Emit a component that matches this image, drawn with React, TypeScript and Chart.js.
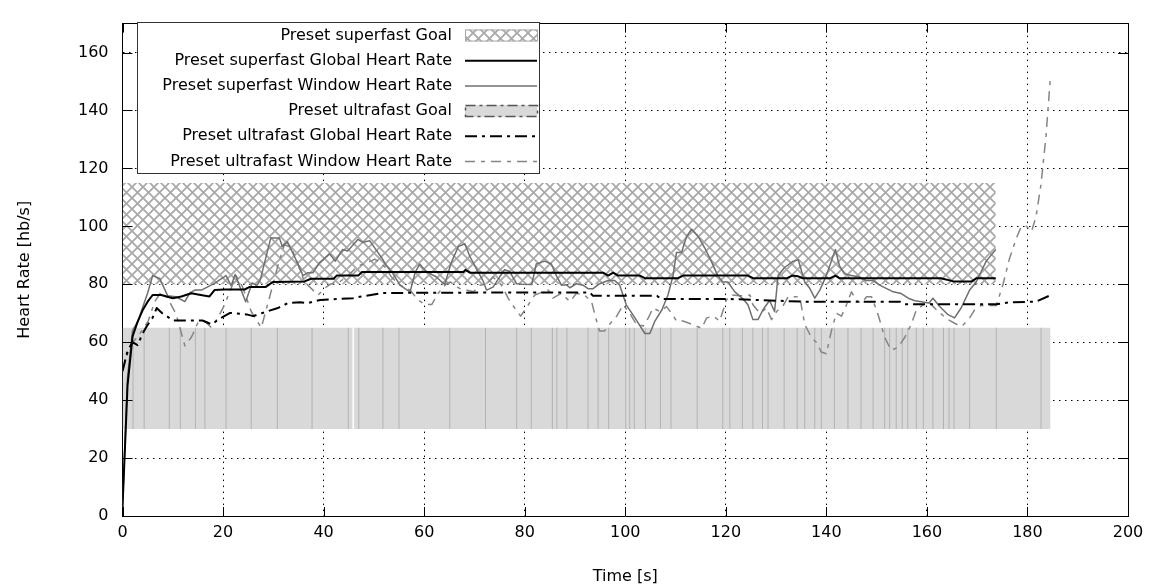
import React, { useEffect, useRef } from 'react';
import { Chart, registerables } from 'chart.js';
Chart.register(...registerables);

const FONT = '"DejaVu Sans", "Liberation Sans", sans-serif';

// ---------- data ----------
const xTicksMax = 200;
const yTicksMax = 170;

const superGoalRange = [0, 173.7];
const superGoalBand = [80, 115];
const ultraGoalRange = [0, 184.6];
const ultraGoalBand = [30, 65];
const ultraGoalBoundaries = [2.1, 4.3, 9.3, 11.5, 14.5, 16.4, 20.6, 25.6, 30.8, 37.7, 44.9, 47, 51.8, 55, 65.1, 72.2, 78.4, 81.3, 85.5, 86.4, 88.4, 92.6, 94.6, 96.7, 100.1, 100.9, 101.8, 104, 107, 109.1, 114.3, 119.4, 120.8, 123.3, 125.4, 127.3, 128.4, 131.6, 134.2, 135.7, 137.7, 139, 141.6, 144.3, 146.9, 149.3, 151.6, 152.6, 153.9, 155.1, 156.2, 157.9, 159.3, 161.2, 163.3, 164.4, 165.4, 168.5, 173.8, 182.7];
const ultraGoalGaps = [45.9];

const superGlobal = [[0,3],[1,45],[2,62],[3,67],[4,71],[5,74],[6,76.3],[7.7,76.3],[10,75.2],[11.7,75.8],[13.7,76.9],[15,76.5],[17.3,75.8],[18.3,78],[20.3,78.2],[24.3,78.2],[25.3,79.1],[28.5,79.1],[29.9,80.8],[36.2,81],[37.5,81.9],[42,81.9],[42.6,83],[46.9,83],[47.6,84.2],[67.8,84.2],[68.2,85],[69.1,84],[95.6,84],[96.6,83],[97.6,84],[98.6,83],[102.9,83],[103.9,82.1],[110.5,82.1],[111.5,83],[124.4,83],[125.4,82.1],[132.2,82.1],[133.2,83],[134.3,82.8],[135.3,82.1],[140.8,82.1],[141.8,83],[142.6,82.1],[162.8,82.1],[165.3,81],[168.9,81],[169.9,82.1],[173.7,82.1]];

const superWindow = [[0,3],[1,48],[2,64],[3,67],[4,72],[5,77],[6,83],[7.4,82],[9,76],[10.6,75.7],[12.4,74],[13.4,77],[14.4,78],[15.7,78],[18.3,80.3],[20.6,83],[21.6,79.5],[22.4,83.4],[24.5,74],[25.8,80.5],[26.7,79.5],[27.4,81.5],[29.5,96],[31.2,96],[31.8,93],[32.8,94.7],[34.1,90],[35.9,83],[36.9,84],[37.9,84],[39.2,87.5],[41.2,90.5],[42.3,88],[43.8,92],[44.8,91.5],[46.8,95.5],[47.8,94.5],[49.2,95],[50.2,92.5],[51.6,89],[52.5,86.4],[53.8,83.7],[55.2,79.7],[56.2,78.5],[57.2,77.4],[58.2,84],[59.1,87],[60.1,85],[61.1,83.7],[62.4,82.6],[63.5,80.8],[64.1,80],[65.4,87.5],[66.8,93],[68.1,94],[69.1,89.6],[70.4,85.3],[71.7,81.3],[72.4,78],[73.7,79],[75,82.5],[76,85],[77,84.4],[78.4,80.2],[79.5,80],[81.4,79.9],[82.3,87],[84,88],[85.3,87],[86.3,83],[87.3,79.7],[88.3,79.8],[89,78.8],[90.3,80.2],[91.6,79.7],[92.6,78.5],[93.6,78.5],[94.9,80.2],[96.6,81.3],[97.9,81.3],[98.9,79.7],[100.2,72.9],[101.9,68.5],[103.9,63],[104.9,63],[105.9,67.3],[107.3,71.2],[108.5,76.3],[109.5,83],[110.2,91],[111.2,91],[112.2,96.5],[113.2,99],[114.5,96.5],[115.8,92.6],[117.1,88],[118.4,83],[119.4,80.8],[120.4,80.8],[121.8,77.4],[123.4,75],[124.4,72.9],[125.4,67.8],[126.4,67.8],[127.4,71.2],[128.7,74.4],[129.7,70.6],[130.4,83],[131.7,85.8],[133.4,88],[134.4,88.5],[135.7,80.8],[136.7,78.6],[137.7,75.2],[138.7,78],[140,83],[141,88],[141.8,92],[142.6,86.4],[143.6,83.6],[145,83],[146.6,82.5],[147.9,81.3],[149.3,81.3],[150.6,79.7],[151.9,78.6],[153.3,77.4],[154.9,76.8],[156.3,75.2],[157.6,74.3],[158.9,74],[160.4,73.5],[161.2,75.2],[162.5,72.4],[164.2,69.5],[165.5,68.4],[166.8,71.8],[168.5,78],[169.8,80.8],[171.8,88],[173.7,92]];

const ultraGlobal = [[0,50],[1,57],[2,60],[3,59],[4,63],[5,66],[6,68.5],[6.8,71.8],[7.9,70],[10.1,67.5],[15.9,67.5],[17.7,66.2],[19.6,68.4],[21.4,70.1],[24.7,69.6],[26,69],[28.7,70.6],[30.9,71.8],[32.9,73.5],[35.3,73.8],[36.9,73.5],[39.3,74.6],[45.9,75.2],[47.2,75.7],[51.8,77],[81,77.2],[92.9,77.2],[93.6,76],[106.3,76],[107.2,74.9],[121,74.9],[135.3,74],[154.6,74],[155.6,73.1],[173.8,73.1],[176.4,73.8],[181.7,74],[184.7,76.3]];

const ultraWindow = [[0,50],[1,56],[2,60],[3.1,62],[5.1,67.3],[6.4,74],[7.7,77.4],[9,75.2],[10.7,69.5],[12.4,58.8],[13.7,61.7],[15,66.7],[16.3,67.3],[17.7,65],[19,68.5],[20.3,72.9],[22.6,83],[23.9,79],[25.6,70.6],[27.6,65],[29.2,75.2],[30.9,86.4],[32.2,93.7],[33.6,92.6],[34.9,87],[36.2,80.8],[37.5,78.6],[38.9,76.3],[40.2,78.6],[41.3,80],[43.2,80.8],[45.2,83.6],[46.9,86.4],[48.6,87.3],[50.2,88.7],[52.2,86],[53.5,82.5],[55.2,79.7],[57.2,78],[58.8,74.6],[60.1,73.1],[61.5,73],[62.8,76.9],[64.3,80],[65.2,80.8],[67.1,78.5],[68.4,78],[69.8,77.4],[71.1,79.7],[72.4,80],[73.7,82.5],[75.4,79.7],[76.7,75.2],[78,71.8],[79.2,69],[80.3,71.8],[82,76.3],[83.7,77.4],[84.7,78],[85.6,75.2],[87.3,76.9],[89,74],[90.3,76.9],[91.9,76.3],[93.3,74],[94.3,67.3],[94.9,63.9],[95.9,63.9],[96.9,66.2],[98.3,69],[99.6,72.9],[100.9,70],[102.2,66.2],[103.6,65.6],[104.6,68.4],[105.5,71.8],[106.9,70.6],[108.2,72.3],[109.2,70],[110.2,67.3],[111.5,67.3],[113.2,66.2],[115.2,64.8],[116.2,68.4],[117.5,69],[118.8,67.3],[120.1,74.6],[121.2,76.3],[122.8,76],[124.8,76.3],[125.4,72.9],[126.8,70],[128.1,71.8],[129.1,67.8],[130.1,70.6],[131.5,72.9],[132.4,75.7],[134.7,75.7],[135.7,66.2],[137,61.7],[138,60],[139,56.6],[140,56],[141,63.9],[142,70],[143,69],[144,72.9],[145,77.4],[146,74.4],[147,73.5],[148,75.7],[149,75.7],[150.3,69.5],[151.6,61.7],[152.9,57.2],[154.3,58.3],[155.6,61.7],[156.9,66.2],[157.9,71.2],[159.3,72.9],[160.6,73.5],[162,71],[164,68],[166.2,65.9],[167,65.5],[168.5,68.4],[169.5,71.2],[170.8,72.7],[173.8,72.7],[175.1,79.7],[176.4,88.7],[177.8,96],[178.8,100],[179.8,100],[180.8,98.2],[181.7,103.3],[182.7,114.5],[183.7,131.4],[184.6,152.2]];

const legendLabels = [
  'Preset superfast Goal',
  'Preset superfast Global Heart Rate',
  'Preset superfast Window Heart Rate',
  'Preset ultrafast Goal',
  'Preset ultrafast Global Heart Rate',
  'Preset ultrafast Window Heart Rate',
];

// ---------- helpers ----------
const pts = (arr: number[][]) => arr.map(([x, y]) => ({ x, y }));
const segs = (xs: number[], lo: number, hi: number) =>
  xs.flatMap((x) => [{ x, y: lo }, { x, y: hi }, { x, y: null as any }]);

function makeHatch(): CanvasPattern | string {
  const P = 11;
  const c = document.createElement('canvas');
  c.width = P; c.height = P;
  const g = c.getContext('2d');
  if (!g) return '#ccc';
  g.fillStyle = '#ffffff';
  g.fillRect(0, 0, P, P);
  g.strokeStyle = '#a9a9a9';
  g.lineWidth = 1.8;
  g.beginPath();
  g.moveTo(-2, -2); g.lineTo(P + 2, P + 2);
  g.moveTo(P + 2, -2); g.lineTo(-2, P + 2);
  g.stroke();
  const p = g.createPattern(c, 'repeat');
  return p || '#ccc';
}

const COL_SF_WIN = '#6f6f6f';
const COL_UF_WIN = '#858585';
const DASH_UF_GLOBAL = [12, 5, 3, 5];
const DASH_UF_WIN = [10, 6, 4, 6];

export default function App() {
  const ref = useRef<HTMLCanvasElement>(null);
  useEffect(() => {
    if (!ref.current) return;
    const hatch = makeHatch();

    const overlay = {
      id: 'gpOverlay',
      afterDraw(chart: any) {
        const ctx = chart.ctx;
        const xs = chart.scales.x, ys = chart.scales.y;
        const a = chart.chartArea;
        ctx.save();
        // inward tick marks (gnuplot style, mirrored)
        ctx.strokeStyle = '#000';
        ctx.lineWidth = 1;
        ctx.setLineDash([]);
        ctx.beginPath();
        xs.ticks.forEach((t: any) => {
          const px = Math.round(xs.getPixelForValue(t.value)) + 0.5;
          ctx.moveTo(px, a.bottom); ctx.lineTo(px, a.bottom - 9);
          ctx.moveTo(px, a.top); ctx.lineTo(px, a.top + 9);
        });
        ys.ticks.forEach((t: any) => {
          const py = Math.round(ys.getPixelForValue(t.value)) + 0.5;
          ctx.moveTo(a.left, py); ctx.lineTo(a.left + 10, py);
          ctx.moveTo(a.right, py); ctx.lineTo(a.right - 10, py);
        });
        ctx.stroke();

        // legend box
        const bx = 137, by = 22, bw = 402, bh = 151;
        ctx.fillStyle = '#fff';
        ctx.fillRect(bx, by, bw, bh);
        ctx.strokeStyle = '#333';
        ctx.lineWidth = 1;
        ctx.strokeRect(bx + 0.5, by + 0.5, bw, bh);
        const rowY0 = 35.5, rowStep = 25.2;
        const tx = 452, sx0 = 465, sx1 = 537;
        ctx.font = '16px ' + FONT;
        ctx.textAlign = 'right';
        ctx.textBaseline = 'middle';
        legendLabels.forEach((lab, i) => {
          const y = rowY0 + i * rowStep;
          ctx.fillStyle = '#000';
          ctx.fillText(lab, tx, y);
          ctx.setLineDash([]);
          if (i === 0) {
            ctx.fillStyle = hatch;
            ctx.fillRect(sx0, y - 6, sx1 - sx0, 12);
            ctx.strokeStyle = '#aaa';
            ctx.lineWidth = 1;
            ctx.strokeRect(sx0 + 0.5, y - 5.5, sx1 - sx0, 11);
          } else if (i === 3) {
            ctx.fillStyle = '#d9d9d9';
            ctx.fillRect(sx0, y - 6, sx1 - sx0, 12);
            ctx.strokeStyle = '#555';
            ctx.lineWidth = 1.5;
            ctx.setLineDash([10, 4, 3, 4]);
            ctx.strokeRect(sx0 + 0.5, y - 5.5, sx1 - sx0, 11);
          } else {
            const styles: any = {
              1: { c: '#000', w: 2, d: [] },
              2: { c: COL_SF_WIN, w: 1.5, d: [] },
              4: { c: '#000', w: 2, d: DASH_UF_GLOBAL },
              5: { c: COL_UF_WIN, w: 1.5, d: DASH_UF_WIN },
            };
            const s = styles[i];
            ctx.strokeStyle = s.c;
            ctx.lineWidth = s.w;
            ctx.setLineDash(s.d);
            ctx.beginPath();
            ctx.moveTo(sx0, y); ctx.lineTo(sx1, y);
            ctx.stroke();
          }
        });
        ctx.restore();
      },
    };

    const chart = new Chart(ref.current, {
      type: 'line',
      data: {
        datasets: [
          {
            label: legendLabels[2],
            data: pts(superWindow),
            borderColor: COL_SF_WIN, borderWidth: 1.5, order: 3,
          },
          {
            label: legendLabels[5],
            data: pts(ultraWindow),
            borderColor: COL_UF_WIN, borderWidth: 1.5, borderDash: DASH_UF_WIN, order: 4,
          },
          {
            label: legendLabels[1],
            data: pts(superGlobal),
            borderColor: '#000', borderWidth: 2, order: 1,
          },
          {
            label: legendLabels[4],
            data: pts(ultraGlobal),
            borderColor: '#000', borderWidth: 2, borderDash: DASH_UF_GLOBAL, order: 2,
          },
          {
            label: 'ultra boundaries',
            data: segs(ultraGoalBoundaries, ultraGoalBand[0], ultraGoalBand[1]),
            borderColor: '#b3b3b3', borderWidth: 1, spanGaps: false, order: 7,
          },
          {
            label: 'ultra gaps',
            data: segs(ultraGoalGaps, ultraGoalBand[0], ultraGoalBand[1]),
            borderColor: '#ffffff', borderWidth: 1.5, spanGaps: false, order: 6,
          },
          {
            label: legendLabels[3],
            data: ultraGoalRange.map((x) => ({ x, y: ultraGoalBand[1] })),
            borderColor: 'transparent', backgroundColor: '#d9d9d9',
            fill: { value: ultraGoalBand[0] }, order: 9,
          },
          {
            label: legendLabels[0],
            data: superGoalRange.map((x) => ({ x, y: superGoalBand[1] })),
            borderColor: 'transparent', backgroundColor: hatch as any,
            fill: { value: superGoalBand[0] }, order: 10,
          },
        ] as any,
      },
      options: {
        animation: false,
        responsive: false,
        events: [],
        layout: { padding: 0 },
        elements: { point: { radius: 0 }, line: { tension: 0, borderJoinStyle: 'round' } },
        plugins: { legend: { display: false }, tooltip: { enabled: false } },
        scales: {
          x: {
            type: 'linear', position: 'bottom', min: 0, max: xTicksMax, z: 1,
            ticks: { stepSize: 20, color: '#000', font: { family: FONT, size: 16 }, padding: 7, maxRotation: 0 },
            grid: { color: '#000', lineWidth: 1, drawTicks: false },
            border: { display: true, color: '#000', width: 1, dash: [1.5, 4.5] },
            title: { display: true, text: 'Time [s]', color: '#000', font: { family: FONT, size: 16 }, padding: { top: 0, bottom: 2 } },
            afterFit: (s: any) => { s.height = 72; },
          },
          x2: {
            type: 'linear', position: 'top', min: 0, max: xTicksMax,
            ticks: { display: false },
            grid: { display: false, drawTicks: false },
            border: { display: true, color: '#000', width: 1 },
            afterFit: (s: any) => { s.height = 12.4; },
          },
          y: {
            type: 'linear', position: 'left', min: 0, max: yTicksMax, z: 1,
            ticks: { stepSize: 20, color: '#000', font: { family: FONT, size: 16 }, padding: 14 },
            afterBuildTicks: (s: any) => { s.ticks = s.ticks.filter((t: any) => t.value % 20 === 0); },
            grid: { color: '#000', lineWidth: 1, drawTicks: false },
            border: { display: true, color: '#000', width: 1, dash: [1.5, 4.5] },
            title: { display: true, text: 'Heart Rate [hb/s]', color: '#000', font: { family: FONT, size: 16 }, padding: { top: 15, bottom: 0 } },
            afterFit: (s: any) => { s.width = 122.5; },
          },
          y2: {
            type: 'linear', position: 'right', min: 0, max: yTicksMax,
            ticks: { display: false },
            grid: { display: false, drawTicks: false },
            border: { display: true, color: '#000', width: 1 },
            afterFit: (s: any) => { s.width = 27; },
          },
        } as any,
      },
      plugins: [overlay],
    } as any);
    return () => chart.destroy();
  }, []);

  return (
    <div style={{ position: 'absolute', left: 0, top: 0, width: 1155, height: 588, background: '#fff' }}>
      <canvas ref={ref} width={1155} height={588} />
    </div>
  );
}
